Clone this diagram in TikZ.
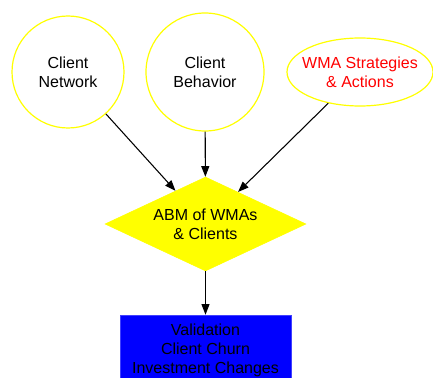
\documentclass[tikz,border=0pt]{standalone}
\usepackage{fontspec}
\setmainfont{Liberation Sans}
\usepackage{xcolor}
\usetikzlibrary{shapes.geometric, arrows.meta, positioning}
\definecolor{nodeyellow}{RGB}{255,255,0}
\definecolor{boxblue}{RGB}{0,0,255}
\tikzset{
    source/.style={circle, draw=nodeyellow, line width=0.9pt, fill=white, inner sep=0pt, align=center},
    strategy/.style={ellipse, draw=nodeyellow, line width=0.9pt, fill=white, inner xsep=-6pt, inner ysep=0pt, align=center, text=red, minimum width=109.5pt, minimum height=51pt},
    model/.style={diamond, draw=nodeyellow, fill=nodeyellow, inner sep=0pt, aspect=2.14, minimum width=150.75pt, minimum height=70.5pt, align=center},
    output/.style={rectangle, draw=blue!75!white, fill=boxblue, inner sep=0pt, minimum width=128.25pt, minimum height=52.5pt, align=center},
    arrow/.style={-{Triangle[length=8pt, width=6pt]}, line width=0.8pt}
}

\begin{document}
\begin{tikzpicture}[x=0.75pt, y=-0.75pt, font=\fontsize{12}{14.3}\selectfont]
            \useasboundingbox (0,0) rectangle (433,378);
            \node (network) [source, minimum size=84pt] at (68,72) {Client\\Network};
            \node (behavior) [source, minimum size=88.5pt] at (205,72) {Client\\Behavior};
            \node (wma) [strategy] at (360,72) {WMA Strategies\\\& Actions};
            \node (abm) [model] at (205.5,224) {ABM of WMAs\\\& Clients};
            \node (valid) [output] at (205.5,350) {Validation\\Client Churn\\Investment Changes};

            \draw[arrow] (network) -- (abm);
            \draw[arrow] (behavior) -- (abm);
            \draw[arrow] (wma) -- (abm);
            \draw[arrow] (abm) -- (valid);
        \end{tikzpicture}
\end{document}
